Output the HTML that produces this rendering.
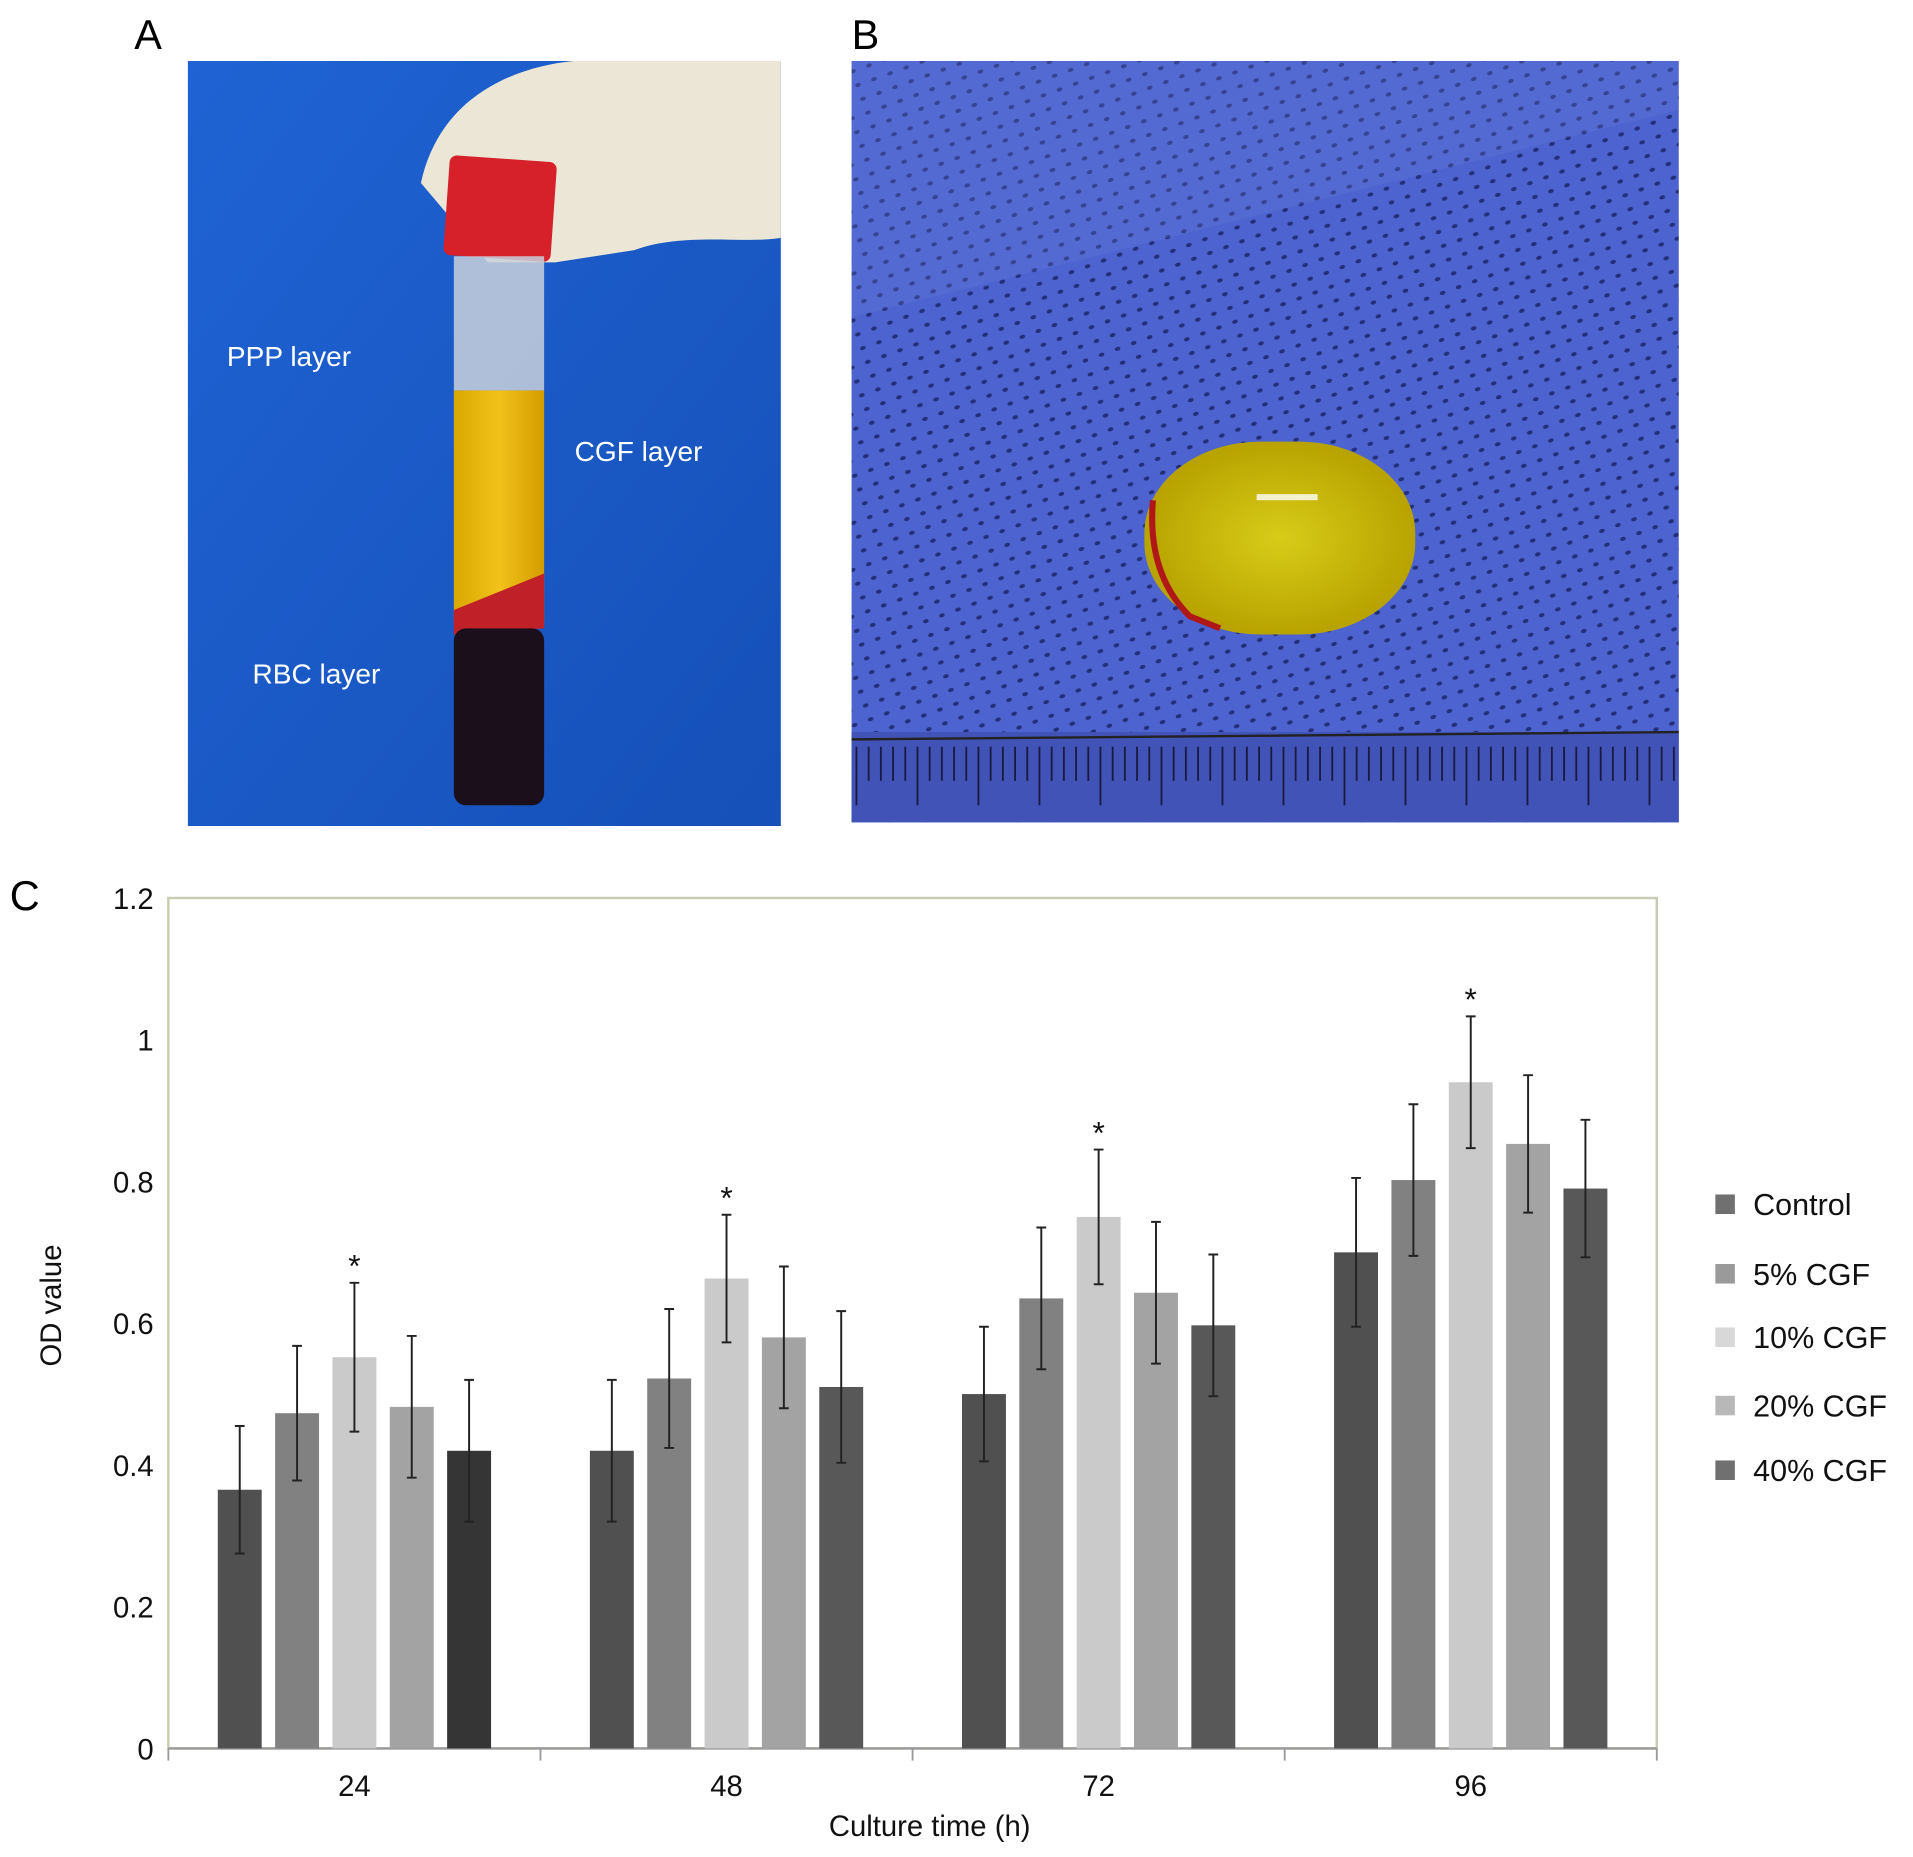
<!DOCTYPE html>
<html><head><meta charset="utf-8"><style>
html,body{margin:0;padding:0;background:#fff;}
svg{display:block;font-family:"Liberation Sans",Arial,sans-serif;}
</style></head><body>
<svg id="fig" width="1913" height="1857" viewBox="0 0 1568 1522" preserveAspectRatio="none">
<defs>
<pattern id="dots" width="14" height="12" patternUnits="userSpaceOnUse" patternTransform="rotate(-20)">
<rect width="14" height="12" fill="#4d63cf"/><ellipse cx="7" cy="6" rx="2.4" ry="1.6" fill="#22307a"/>
</pattern>
<linearGradient id="blueA" x1="0" y1="0" x2="1" y2="1"><stop offset="0" stop-color="#1f63d4"/><stop offset="1" stop-color="#1650b8"/></linearGradient>
<linearGradient id="tubeG" x1="0" x2="1"><stop offset="0" stop-color="#d9a800"/><stop offset=".5" stop-color="#f2c21a"/><stop offset="1" stop-color="#d49c00"/></linearGradient>
<radialGradient id="clot"><stop offset="0" stop-color="#d8cc18"/><stop offset="1" stop-color="#b8a300"/></radialGradient>
</defs>
<text x="110" y="40" font-size="34">A</text>
<g>
<rect x="154" y="50" width="486" height="627" fill="url(#blueA)"/>
<path d="M345,150 C360,80 420,55 470,50 L640,50 L640,195 C610,200 560,190 520,205 L455,215 L400,215 Z" fill="#ece6d6"/>
<rect x="366" y="130" width="88" height="82" rx="6" fill="#d6202a" transform="rotate(4 410 170)"/>
<rect x="372" y="210" width="74" height="110" fill="#c9d0dc" opacity=".85"/>
<rect x="372" y="320" width="74" height="190" fill="url(#tubeG)"/>
<path d="M372,500 L446,470 L446,515 L372,520 Z" fill="#c02028"/>
<rect x="372" y="515" width="74" height="145" rx="10" fill="#1a0f1a"/>
<text x="186" y="300" font-size="23" fill="#fff">PPP layer</text>
<text x="471" y="378" font-size="23" fill="#fff">CGF layer</text>
<text x="207" y="560" font-size="23" fill="#fff">RBC layer</text>
</g>
<text x="698" y="40" font-size="34">B</text>
<g>
<rect x="698" y="50" width="678" height="624" fill="url(#dots)"/>
<path d="M698,260 L1376,90 L1376,50 L698,50 Z" fill="#6a80e0" opacity=".25"/>
<rect x="698" y="600" width="678" height="74" fill="#4253b8"/>
<line x1="698" y1="606" x2="1376" y2="600" stroke="#222" stroke-width="2"/>
<g id="ruler" stroke="#1a1a40" stroke-width="1.5"></g>
<rect x="938" y="362" width="222" height="158" rx="95" ry="75" fill="url(#clot)"/>
<path d="M945,410 Q940,470 975,505 L1000,515" stroke="#b01818" stroke-width="5" fill="none"/>
<rect x="1030" y="405" width="50" height="5" fill="#fff" opacity=".8"/>
</g>
<text x="8" y="746" font-size="34">C</text>
<g id="chart"></g>
</svg>
<script>
const categories=["24","48","72","96"];
const seriesNames=["Control","5% CGF","10% CGF","20% CGF","40% CGF"];
const control=[0.365,0.42,0.50,0.70];
const cgf5=[0.473,0.522,0.635,0.802];
const cgf10=[0.552,0.663,0.75,0.94];
const cgf20=[0.482,0.58,0.643,0.853];
const cgf40=[0.42,0.51,0.597,0.79];
const errControl=[0.09,0.10,0.095,0.105];
const errCgf5=[0.095,0.098,0.10,0.107];
const errCgf10=[0.105,0.09,0.095,0.093];
const errCgf20=[0.10,0.10,0.10,0.097];
const errCgf40=[0.10,0.107,0.10,0.097];
const yTicks=[0,0.2,0.4,0.6,0.8,1,1.2];
const yTickLabels=["0","0.2","0.4","0.6","0.8","1","1.2"];
const significant=[true,true,true,true];

const NS="http://www.w3.org/2000/svg";
const chart=document.getElementById('chart');
const L=138,R=1358,T=736,B=1433,ymax=1.2;
const y=v=>B-(v/ymax)*(B-T);
const groupW=(R-L)/categories.length;
const x=i=>L+groupW*(i+0.5);
const colors=["#505050","#818181","#cacaca","#a3a3a3","#585858"];
const legendColors=["#707070","#9a9a9a","#d8d8d8","#b8b8b8","#707070"];
const values=[control,cgf5,cgf10,cgf20,cgf40];
const errs=[errControl,errCgf5,errCgf10,errCgf20,errCgf40];
function mk(t,a,p){const e=document.createElementNS(NS,t);for(const k in a)e.setAttribute(k,a[k]);(p||chart).appendChild(e);return e;}

let frame=mk('rect',{x:L,y:T,width:R-L,height:B-T,fill:'none',stroke:'#c8ccb0','stroke-width':2});


let xa=mk('line',{x1:L,y1:B,x2:R,y2:B,stroke:'#999','stroke-width':2});


yTicks.forEach((v,i)=>{
 const t=mk('text',{x:126,y:y(v)+9,'text-anchor':'end','font-size':24,fill:'#111'});
 t.textContent=yTickLabels[i];
 
 
});
for(let i=0;i<=categories.length;i++){
 const tk=mk('line',{x1:L+groupW*i,y1:B,x2:L+groupW*i,y2:B+10,stroke:'#999','stroke-width':1.5});
 
 
}
categories.forEach((c,i)=>{
 const t=mk('text',{x:x(i),y:1472,'text-anchor':'middle','font-size':24,fill:'#111'});
 t.textContent=c;
 
 
});
const pitch=47,bw=36;
values.forEach((arr,s)=>{
 arr.forEach((v,i)=>{
  const cx=x(i)+(s-2)*pitch;
  const b=mk('rect',{x:cx-bw/2,y:y(v),width:bw,height:B-y(v),fill:(s===4&&i===0)?'#353535':colors[s]});
  
  
  const e=errs[s][i];
  const eb=mk('path',{d:`M${cx},${y(v+e)}V${y(v-e)}M${cx-4},${y(v+e)}H${cx+4}M${cx-4},${y(v-e)}H${cx+4}`,stroke:'#222','stroke-width':1.6,fill:'none'});
  
  
  if(s===2&&significant[i]){
   const st=mk('text',{x:cx,y:y(v+e)-5,'text-anchor':'middle','font-size':26,fill:'#111'});
   st.textContent='*';
   
   
  }
 });
});
const ly=[987,1044,1096,1152,1205];
seriesNames.forEach((n,s)=>{
 const sq=mk('rect',{x:1406,y:ly[s]-8,width:16,height:16,fill:legendColors[s]});
 
 
 const t=mk('text',{x:1437,y:ly[s]+9,'font-size':25,fill:'#111'});
 t.textContent=n;
 
 
});
const yt=mk('text',{x:0,y:0,'font-size':24,'text-anchor':'middle',fill:'#111',transform:'translate(50,1070) rotate(-90)'});
yt.textContent='OD value';


const xt=mk('text',{x:762,y:1505,'font-size':24,'text-anchor':'middle',fill:'#111'});
xt.textContent='Culture time (h)';


const rg=document.getElementById('ruler');
for(let k=0;k<68;k++){const xx=702+k*10;const l=document.createElementNS(NS,'line');l.setAttribute('x1',xx);l.setAttribute('x2',xx);l.setAttribute('y1',612);l.setAttribute('y2',k%5===0?660:640);rg.appendChild(l);}
</script>
</body></html>
